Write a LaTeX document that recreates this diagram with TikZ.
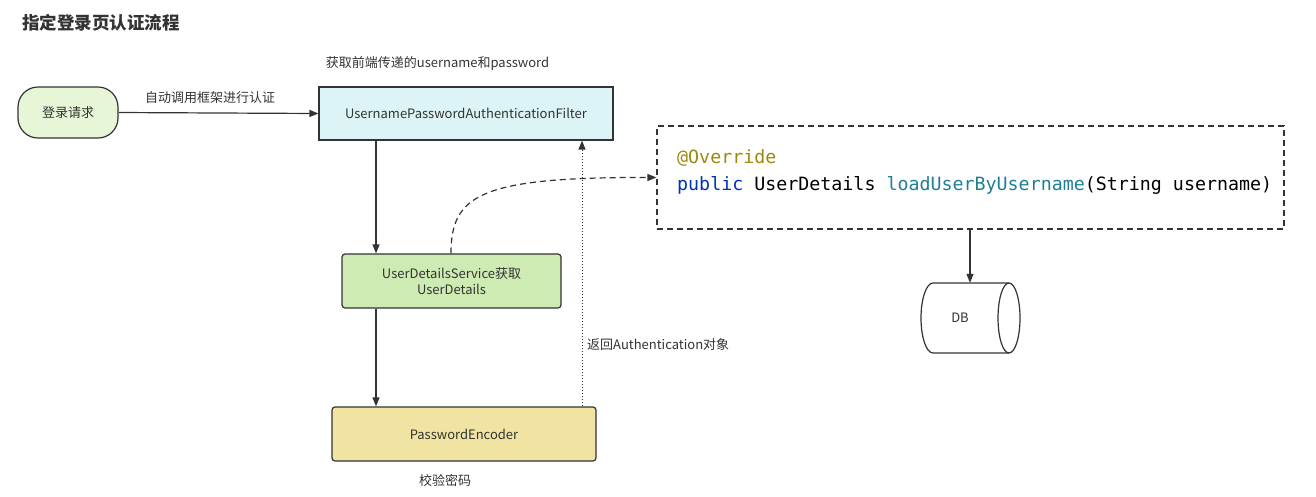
\documentclass[tikz,border=0pt]{standalone}
\usepackage{fontspec}
\setmainfont{Noto Sans CJK SC}
\setmonofont{DejaVu Sans Mono}
\usetikzlibrary{arrows.meta}
\definecolor{ln}{HTML}{333333}
\definecolor{txt}{HTML}{333333}
\definecolor{reqfill}{HTML}{E6F6D6}
\definecolor{filfill}{HTML}{DCF4F5}
\definecolor{udsfill}{HTML}{CDEBB2}
\definecolor{pefill}{HTML}{F1E3A1}
\definecolor{annot}{HTML}{9E880D}
\definecolor{kw}{HTML}{0033B3}
\definecolor{meth}{HTML}{1F7F96}
\begin{document}
\begin{tikzpicture}[x=1pt,y=-1pt,
  box/.style={draw=ln,line width=1.2pt,text=txt,font=\fontsize{13}{16}\selectfont,align=center,inner sep=0pt},
  lbl/.style={text=txt,font=\fontsize{13}{16}\selectfont,inner sep=0pt},
  arr/.style={draw=ln,line width=1.2pt,-{Triangle[length=9pt,width=7pt]}}]
\useasboundingbox (0,0) rectangle (1316,496);
\node[anchor=west,font=\bfseries\fontsize{17.5}{20}\selectfont,text=txt,inner sep=0pt] (title) at (22,23) {指定登录页认证流程};
\node[box,fill=reqfill,minimum width=100pt,minimum height=51pt,rounded corners=20pt] (req) at (68,112.5) {登录请求};
\node[box,fill=filfill,minimum width=294pt,minimum height=53pt] (filter) at (466,113.5) {UsernamePasswordAuthenticationFilter};
\node[box,fill=udsfill,minimum width=219pt,minimum height=54pt,rounded corners=3pt] (uds) at (451.5,281) {UserDetailsService获取\\UserDetails};
\node[box,fill=pefill,minimum width=264pt,minimum height=54pt,rounded corners=3pt] (pe) at (464,434) {PasswordEncoder};
\node[draw=ln,line width=1.2pt,dash pattern=on 6pt off 4pt,minimum width=627pt,minimum height=103pt,inner sep=0pt] (code) at (970.5,177.5) {};
\node[anchor=west,inner sep=0pt,font=\ttfamily\fontsize{18.3}{22}\selectfont,text=annot] (c1) at (677,158) {@Override};
\node[anchor=west,inner sep=0pt,font=\ttfamily\fontsize{18.3}{22}\selectfont,text=black] (c2) at (677,185) {\textcolor{kw}{public} UserDetails \textcolor{meth}{loadUserByUsername}(String username)};
% DB cylinder
\node[minimum width=100pt,minimum height=70pt,inner sep=0pt] (db) at (970,318) {};
\fill[white] (933,283) -- (1009,283) arc[start angle=-90,end angle=90,x radius=11pt,y radius=-35pt] -- (933,353) arc[start angle=270,end angle=90,x radius=12pt,y radius=-35pt] -- cycle;
\draw[ln,line width=1.2pt] (1009,283) -- (933,283) arc[start angle=90,end angle=270,x radius=12pt,y radius=35pt] -- (1009,353);
\draw[ln,line width=1.2pt] (1009,318) ellipse[x radius=11pt,y radius=35pt];
\node[text=txt,font=\fontsize{13}{16}\selectfont,inner sep=0pt] (dbt) at (960,318) {DB};
\node[lbl] (l1) at (210,98) {自动调用框架进行认证};
\node[lbl] (l2) at (437.5,63) {获取前端传递的username和password};
\node[lbl,anchor=west] (l3) at (587,345) {返回Authentication对象};
\node[lbl] (l4) at (445,480) {校验密码};
\coordinate (xa) at (376,0);
\coordinate (xb) at (582,0);
\coordinate (xc) at (451,0);
\draw[arr] (req.east) -- (filter.west);
\draw[arr] (filter.south -| xa) -- (uds.north -| xa);
\draw[arr] (uds.south -| xa) -- (pe.north -| xa);
\draw[arr,line width=1pt,dotted] (pe.north -| xb) -- (filter.south -| xb);
\draw[arr,dash pattern=on 6pt off 4pt] (uds.north -| xc) .. controls (451,195) and (480,177) .. (code.west);
\draw[arr] (code.south -| db.north) -- (db.north);
\end{tikzpicture}
\end{document}
